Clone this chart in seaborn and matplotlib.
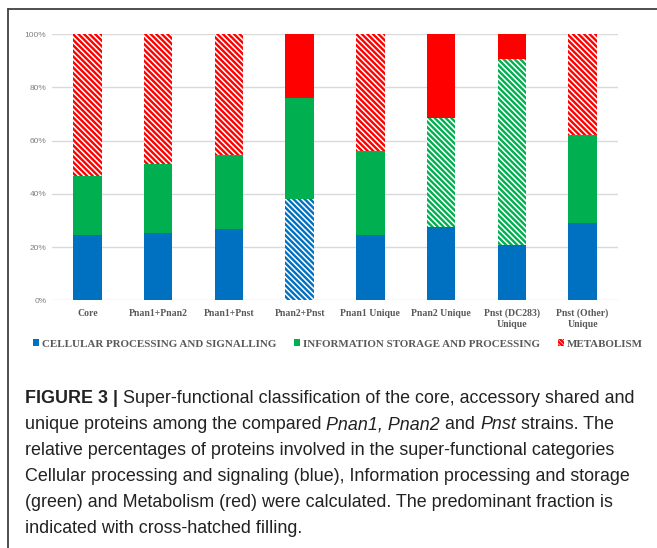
import matplotlib
matplotlib.use("Agg")
import matplotlib.pyplot as plt
from matplotlib.patches import Patch
from matplotlib.lines import Line2D
from matplotlib.font_manager import FontProperties
import numpy as np
import pandas as pd
import seaborn as sns

# Protein groups compared
categories = ["Core", "Pnan1+Pnan2", "Pnan1+Pnst", "Pnan2+Pnst", "Pnan1 Unique",
              "Pnan2 Unique", "Pnst (DC283)\nUnique", "Pnst (Other)\nUnique"]

# Relative share (%) of each super-functional category per group
cellular = [24.5, 25.2, 26.7, 38.0, 24.5, 27.7, 20.7, 28.9]
information = [22.3, 26.2, 28.0, 37.9, 31.7, 40.8, 70.0, 33.1]
metabolism = [53.2, 48.6, 45.3, 24.1, 43.8, 31.5, 9.3, 38.0]

series_names = ["CELLULAR PROCESSING AND SIGNALLING",
                "INFORMATION STORAGE AND PROCESSING",
                "METABOLISM"]
ytick_values = [0, 20, 40, 60, 80, 100]

BLUE, GREEN, RED = "#0070C0", "#00B050", "#FF0000"
W, H, DPI = 657, 548, 100

sns.set_style("white")
plt.rcParams["hatch.linewidth"] = 1.7

df = pd.DataFrame({"group": categories,
                   "cellular": cellular,
                   "information": information,
                   "metabolism": metabolism})
df["top_info"] = df["cellular"] + df["information"]
df["top_met"] = df["top_info"] + df["metabolism"]
# the predominant fraction of each group gets the hatched fill
dominant = df[["cellular", "information", "metabolism"]].values.argmax(axis=1)

fig = plt.figure(figsize=(W / DPI, H / DPI), dpi=DPI)
ax = fig.add_axes([52 / W, 1 - 300.3 / H, (618 - 52) / W, (300.3 - 34.3) / H])

# stacked bars drawn back to front as cumulative heights
layers = [("top_met", RED, 2), ("top_info", GREEN, 1), ("cellular", BLUE, 0)]
for col, colr, idx in layers:
    n_before = len(ax.patches)
    sns.barplot(data=df, x="group", y=col, color=colr, width=0.4,
                linewidth=0, saturation=1, ax=ax, zorder=3)
    for i, patch in enumerate(ax.patches[n_before:]):
        if dominant[i] == idx:
            patch.set_facecolor("white")
            patch.set_edgecolor(colr)
            patch.set_hatch("\\" * 6)
            patch.set_linewidth(0)

ax.set_xlim(-0.5, 7.5)
ax.set_ylim(0, 100)
ax.set_xlabel("")
ax.set_ylabel("")
ax.set_yticks(ytick_values)
ax.set_yticklabels([f"{v}%" for v in ytick_values], fontsize=6,
                   family="Liberation Sans", color="#808080")
ax.set_xticks(range(len(categories)))
ax.set_xticklabels(categories, fontsize=7, family="Liberation Serif",
                   fontweight="bold", color="#595959", linespacing=1.3)
ax.tick_params(axis="both", length=0)
ax.tick_params(axis="y", pad=4)
ax.tick_params(axis="x", pad=6)
ax.grid(axis="y", color="#d9d9d9", linewidth=1.0, zorder=0)
ax.set_axisbelow(True)
for s in ax.spines.values():
    s.set_visible(False)

handles = [Patch(facecolor=BLUE, edgecolor=BLUE, linewidth=0),
           Patch(facecolor=GREEN, edgecolor=GREEN, linewidth=0),
           Patch(facecolor="white", edgecolor=RED, hatch="\\" * 8, linewidth=0)]
fig.legend(handles, series_names, ncol=3, loc="center",
           bbox_to_anchor=(338 / W, 1 - 344 / H), frameon=False,
           handlelength=0.55, handleheight=0.6, handletextpad=0.3,
           columnspacing=1.6, borderaxespad=0,
           prop={"family": "Liberation Serif", "weight": "bold", "size": 7.9},
           labelcolor="#595959")

# frame around the panel (top and left edges)
fig.add_artist(Line2D([7.5 / W, 1.0], [1 - 8.5 / H, 1 - 8.5 / H],
                      transform=fig.transFigure, color="#404040", lw=1.3))
fig.add_artist(Line2D([7.5 / W, 7.5 / W], [1 - 8.5 / H, 0.0],
                      transform=fig.transFigure, color="#404040", lw=1.3))

# caption with mixed bold / italic runs
caption_lines = [
    [("FIGURE 3 |", "bold", "normal"),
     (" Super-functional classification of the core, accessory shared and", "normal", "normal")],
    [("unique proteins among the compared ", "normal", "normal"),
     ("Pnan1, Pnan2", "normal", "italic"),
     (" and ", "normal", "normal"),
     ("Pnst", "normal", "italic"),
     (" strains. The", "normal", "normal")],
    [("relative percentages of proteins involved in the super-functional categories", "normal", "normal")],
    [("Cellular processing and signaling (blue), Information processing and storage", "normal", "normal")],
    [("(green) and Metabolism (red) were calculated. The predominant fraction is", "normal", "normal")],
    [("indicated with cross-hatched filling.", "normal", "normal")],
]
renderer = fig.canvas.get_renderer()
cap_size = 12.9
cap_family = "Liberation Sans"


def text_width(s, prop):
    wa, _, _ = renderer.get_text_width_height_descent("x" + s + "x", prop, ismath=False)
    wb, _, _ = renderer.get_text_width_height_descent("xx", prop, ismath=False)
    return wa - wb


x0 = 25
baseline0 = 403
line_step = 26
for li, runs in enumerate(caption_lines):
    x = x0
    y = baseline0 + li * line_step
    for text, weight, style in runs:
        prop = FontProperties(family=cap_family, weight=weight, style=style, size=cap_size)
        fig.text(x / W, 1 - y / H, text, fontproperties=prop, color="#222222",
                 ha="left", va="baseline")
        x += text_width(text, prop)

fig.savefig("out.png", dpi=DPI)
